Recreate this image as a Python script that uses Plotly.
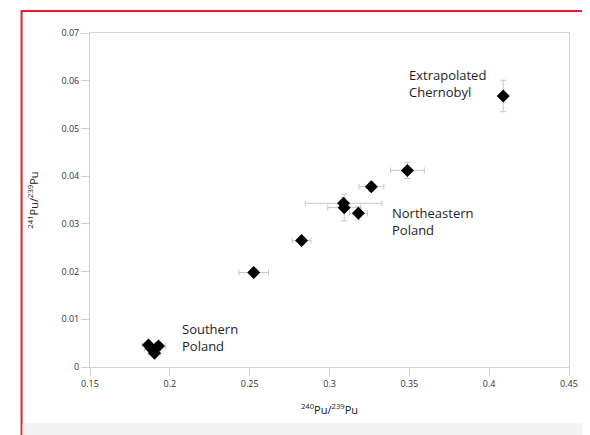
import plotly.graph_objects as go

# Data
pu240_239 = [0.4088, 0.3488, 0.3262, 0.3088, 0.3092, 0.3181, 0.2825, 0.2525,
             0.1866, 0.1885, 0.1929, 0.1904]
pu241_239 = [0.0568, 0.0412, 0.0378, 0.0343, 0.0334, 0.0322, 0.0265, 0.0198,
             0.0046, 0.0038, 0.0044, 0.0029]
x_err = [0.0, 0.0106, 0.0078, 0.0240, 0.0103, 0.0056, 0.0059, 0.0093,
         0.0040, 0.0045, 0.0045, 0.0040]
y_err = [0.0033, 0.0017, 0.0010, 0.0012, 0.0028, 0.0014, 0.0008, 0.0008,
         0.0005, 0.0005, 0.0005, 0.0005]

labels = ["Extrapolated<br>Chernobyl", "Northeastern<br>Poland", "Southern<br>Poland"]
label_x = [0.3485, 0.3380, 0.2063]
label_y = [0.0635, 0.0345, 0.0102]

tick_x = [0.15, 0.2, 0.25, 0.3, 0.35, 0.4, 0.45]
tick_y = [0, 0.01, 0.02, 0.03, 0.04, 0.05, 0.06, 0.07]

FONT = "Open Sans, Noto Sans, sans-serif"

# page body has an 8px margin; compensate so the plot area lands at x 90-573, y 33-367
OFF = 8
L, R, T, B = 90 - OFF, 17, 33 - OFF, 68
W, H = 590 - OFF, 435 - OFF
PW, PH = 483, 334  # plot area size in px


def px_to_paper_x(px):
    return (px - 90) / PW


def py_to_paper_y(py):
    return (367 - py) / PH


fig = go.Figure()
fig.add_trace(go.Scatter(
    x=pu240_239, y=pu241_239, mode="markers",
    marker=dict(symbol="diamond", size=10, color="black"),
    error_x=dict(type="data", array=x_err, visible=True, color="#c8c8c8", thickness=1, width=3),
    error_y=dict(type="data", array=y_err, visible=True, color="#c8c8c8", thickness=1, width=3),
    showlegend=False, hoverinfo="skip",
))

for t, xx, yy in zip(labels, label_x, label_y):
    fig.add_annotation(x=xx, y=yy, text=t, showarrow=False, xanchor="left", yanchor="top",
                       align="left", font=dict(family=FONT, size=13, color="#1e1e1e"))

# Frame: red border & light bottom band
fig.add_shape(type="rect", xref="paper", yref="paper",
              x0=px_to_paper_x(21), x1=px_to_paper_x(600),
              y0=py_to_paper_y(445), y1=py_to_paper_y(11),
              line=dict(color="#d8232a", width=2), fillcolor="rgba(0,0,0,0)", layer="below")
fig.add_shape(type="rect", xref="paper", yref="paper",
              x0=px_to_paper_x(22), x1=px_to_paper_x(600),
              y0=py_to_paper_y(445), y1=py_to_paper_y(423),
              line=dict(width=0), fillcolor="#f4f4f4", layer="below")

axis_common = dict(showgrid=False, zeroline=False, showline=True, linecolor="#d4d4d4",
                   linewidth=1, mirror=True, ticks="outside", ticklen=8, tickcolor="#cfcfcf",
                   tickfont=dict(family=FONT, size=9, color="#333333"))

fig.update_layout(
    width=W, height=H,
    margin=dict(l=L, r=R, t=T, b=B),
    paper_bgcolor="white", plot_bgcolor="white",
    font=dict(family=FONT),
    xaxis=dict(range=[0.15, 0.45], tickvals=tick_x, ticktext=[f"{v:g}" for v in tick_x],
               title=dict(text="<sup>240</sup>Pu/<sup>239</sup>Pu", standoff=17,
                          font=dict(family=FONT, size=11, color="#222222")),
               **axis_common),
    yaxis=dict(range=[0, 0.07], tickvals=tick_y, ticktext=[f"{v:g}" for v in tick_y],
               title=dict(text="<sup>241</sup>Pu/<sup>239</sup>Pu", standoff=20,
                          font=dict(family=FONT, size=11, color="#222222")),
               **axis_common),
)

fig.write_html("out.html")
